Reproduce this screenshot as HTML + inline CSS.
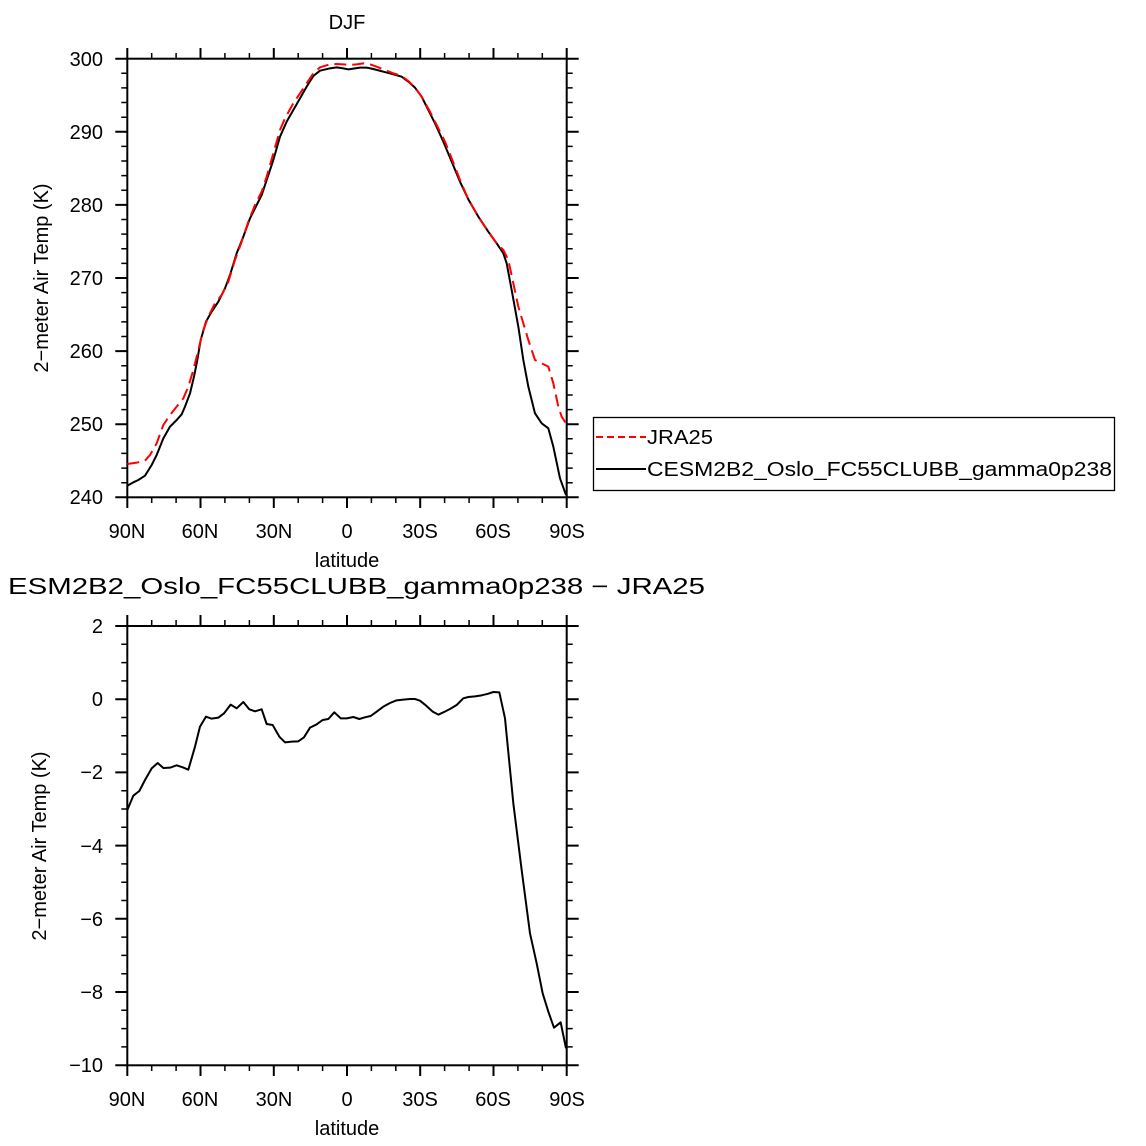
<!DOCTYPE html>
<html><head><style>html,body{margin:0;padding:0;background:#fff}svg{display:block}text{font-family:"Liberation Sans",sans-serif;fill:#000}</style></head>
<body>
<svg width="1146" height="1146" viewBox="0 0 1146 1146" xmlns="http://www.w3.org/2000/svg">
<g id="axes" stroke="#000" fill="none">
<rect x="127.3" y="58.7" width="439.4" height="438.6" stroke-width="2"/>
<rect x="127.3" y="626" width="439.4" height="439.3" stroke-width="2"/>
<path stroke-width="2" d="
M127.3 497v11M200.5 497v11M273.8 497v11M347 497v11M420.2 497v11M493.5 497v11M566.7 497v11
M127.3 59v-11M200.5 59v-11M273.8 59v-11M347 59v-11M420.2 59v-11M493.5 59v-11M566.7 59v-11
M127.3 1065v11M200.5 1065v11M273.8 1065v11M347 1065v11M420.2 1065v11M493.5 1065v11M566.7 1065v11
M127.3 626v-11M200.5 626v-11M273.8 626v-11M347 626v-11M420.2 626v-11M493.5 626v-11M566.7 626v-11"/>
<path stroke-width="1.5" d="
M151.7 497v6M176.1 497v6M224.9 497v6M249.4 497v6M298.2 497v6M322.6 497v6M371.4 497v6M395.8 497v6M444.6 497v6M469.1 497v6M517.9 497v6M542.3 497v6
M151.7 59v-6M176.1 59v-6M224.9 59v-6M249.4 59v-6M298.2 59v-6M322.6 59v-6M371.4 59v-6M395.8 59v-6M444.6 59v-6M469.1 59v-6M517.9 59v-6M542.3 59v-6
M151.7 1065v6M176.1 1065v6M224.9 1065v6M249.4 1065v6M298.2 1065v6M322.6 1065v6M371.4 1065v6M395.8 1065v6M444.6 1065v6M469.1 1065v6M517.9 1065v6M542.3 1065v6
M151.7 626v-6M176.1 626v-6M224.9 626v-6M249.4 626v-6M298.2 626v-6M322.6 626v-6M371.4 626v-6M395.8 626v-6M444.6 626v-6M469.1 626v-6M517.9 626v-6M542.3 626v-6"/>
</g>
<g stroke="#000" fill="none">
<path id="yt" stroke-width="2" d="M127.3 58.7h-12M127.3 131.8h-12M127.3 204.9h-12M127.3 278h-12M127.3 351.1h-12M127.3 424.2h-12M127.3 497.3h-12
M566.7 58.7h12M566.7 131.8h12M566.7 204.9h12M566.7 278h12M566.7 351.1h12M566.7 424.2h12M566.7 497.3h12
M127.3 626h-12M127.3 699.2h-12M127.3 772.4h-12M127.3 845.6h-12M127.3 918.8h-12M127.3 992h-12M127.3 1065.3h-12
M566.7 626h12M566.7 699.2h12M566.7 772.4h12M566.7 845.6h12M566.7 918.8h12M566.7 992h12M566.7 1065.3h12"/>
<path stroke-width="1.5" d="
M127.3 73.3h-6M127.3 87.9h-6M127.3 102.5h-6M127.3 117.2h-6M127.3 146.4h-6M127.3 161h-6M127.3 175.6h-6M127.3 190.3h-6M127.3 219.5h-6M127.3 234.1h-6M127.3 248.8h-6M127.3 263.4h-6M127.3 292.6h-6M127.3 307.2h-6M127.3 321.9h-6M127.3 336.5h-6M127.3 365.7h-6M127.3 380.3h-6M127.3 395h-6M127.3 409.6h-6M127.3 438.8h-6M127.3 453.4h-6M127.3 468.1h-6M127.3 482.7h-6
M566.7 73.3h6M566.7 87.9h6M566.7 102.5h6M566.7 117.2h6M566.7 146.4h6M566.7 161h6M566.7 175.6h6M566.7 190.3h6M566.7 219.5h6M566.7 234.1h6M566.7 248.8h6M566.7 263.4h6M566.7 292.6h6M566.7 307.2h6M566.7 321.9h6M566.7 336.5h6M566.7 365.7h6M566.7 380.3h6M566.7 395h6M566.7 409.6h6M566.7 438.8h6M566.7 453.4h6M566.7 468.1h6M566.7 482.7h6
M127.3 644.3h-6M127.3 662.6h-6M127.3 680.9h-6M127.3 717.5h-6M127.3 735.8h-6M127.3 754.1h-6M127.3 790.7h-6M127.3 809h-6M127.3 827.3h-6M127.3 863.9h-6M127.3 882.2h-6M127.3 900.5h-6M127.3 937.1h-6M127.3 955.4h-6M127.3 973.7h-6M127.3 1010.3h-6M127.3 1028.6h-6M127.3 1046.9h-6
M566.7 644.3h6M566.7 662.6h6M566.7 680.9h6M566.7 717.5h6M566.7 735.8h6M566.7 754.1h6M566.7 790.7h6M566.7 809h6M566.7 827.3h6M566.7 863.9h6M566.7 882.2h6M566.7 900.5h6M566.7 937.1h6M566.7 955.4h6M566.7 973.7h6M566.7 1010.3h6M566.7 1028.6h6M566.7 1046.9h6"/>
</g>
<g transform="translate(100,40) scale(0.33333)" fill="none" stroke-width="6" stroke-linejoin="round">
<polyline stroke="#000" points="82,1337 100,1327 115,1320 135,1307 155,1275 170,1245 190,1195 210,1160 230,1140 245,1123 255,1100 270,1060 282,1010 292,960 302,900 318,845 335,815 355,785 375,745 390,705 410,640 430,590 450,535 470,495 485,465 500,420 520,360 540,290 560,245 580,210 600,175 620,140 640,108 660,92 690,85 710,82 730,85 745,88 760,86 780,83 800,83 820,87 850,95 880,103 905,110 925,125 945,143 965,170 985,210 1005,250 1030,305 1055,365 1080,425 1105,478 1135,530 1165,575 1190,610 1210,640 1220,670 1235,750 1255,860 1270,960 1285,1040 1305,1120 1325,1150 1345,1165 1360,1220 1380,1315 1398,1365"/>
<polyline stroke="#f00" stroke-dasharray="36,18" points="82,1272 110,1268 135,1262 150,1245 170,1210 190,1155 210,1125 230,1100 250,1075 265,1040 280,990 295,930 310,870 325,830 345,790 365,765 385,725 405,660 425,605 445,545 465,495 485,455 500,410 520,340 540,270 555,235 580,190 610,145 640,100 660,82 690,73 710,72 730,73 750,75 770,73 790,70 810,73 830,80 860,92 880,100 905,108 925,123 945,143 965,170 990,215 1010,255 1035,305 1055,355 1080,420 1105,478 1135,530 1165,575 1190,610 1210,630 1225,660 1240,730 1255,800 1270,850 1285,900 1305,960 1325,970 1345,980 1360,1030 1375,1100 1385,1130 1398,1150"/>
</g>
<g transform="translate(100,610) scale(0.33333)" fill="none" stroke-width="6" stroke-linejoin="round">
<polyline stroke="#000" points="82,600 100,557 118,543 135,510 155,475 173,459 190,474 210,473 230,466 248,472 265,479 285,410 300,350 318,320 335,326 355,323 372,310 392,284 410,295 430,276 448,298 465,304 485,298 500,342 518,345 538,380 555,397 575,395 595,394 612,382 630,353 650,343 668,330 685,327 703,307 722,325 740,325 760,321 778,327 795,322 812,318 830,305 850,290 870,279 890,271 910,269 930,267 945,267 960,272 975,284 998,305 1015,314 1030,307 1050,297 1070,285 1090,265 1105,261 1125,259 1145,256 1165,251 1180,246 1198,247 1215,325 1240,580 1265,780 1290,970 1310,1060 1328,1150 1345,1205 1362,1253 1382,1237 1398,1315"/>
</g>
<g font-size="20" text-anchor="end">
<text x="103" y="66">300</text><text x="103" y="139">290</text><text x="103" y="212">280</text><text x="103" y="285">270</text><text x="103" y="358">260</text><text x="103" y="431">250</text><text x="103" y="504">240</text>
<text x="103" y="633">2</text><text x="103" y="706">0</text><text x="103" y="779">−2</text><text x="103" y="853">−4</text><text x="103" y="926">−6</text><text x="103" y="999">−8</text><text x="103" y="1072">−10</text>
</g>
<g font-size="20" text-anchor="middle">
<text x="127" y="538">90N</text><text x="200" y="538">60N</text><text x="274" y="538">30N</text><text x="347" y="538">0</text><text x="420" y="538">30S</text><text x="493" y="538">60S</text><text x="567" y="538">90S</text>
<text x="127" y="1106">90N</text><text x="200" y="1106">60N</text><text x="274" y="1106">30N</text><text x="347" y="1106">0</text><text x="420" y="1106">30S</text><text x="493" y="1106">60S</text><text x="567" y="1106">90S</text>
<text x="347" y="567">latitude</text><text x="347" y="1135">latitude</text>
<text x="347" y="29">DJF</text>
<text transform="translate(48,278) rotate(-90)">2−meter Air Temp (K)</text>
<text transform="translate(46,846) rotate(-90)">2−meter Air Temp (K)</text>
</g>
<text x="8" y="594" font-size="23" textLength="697" lengthAdjust="spacingAndGlyphs">ESM2B2_Oslo_FC55CLUBB_gamma0p238 − JRA25</text>
<rect x="593.5" y="417.5" width="521" height="73" fill="none" stroke="#000" stroke-width="1.3"/>
<line x1="596" y1="437" x2="646" y2="437" stroke="#f00" stroke-width="2" stroke-dasharray="7,4"/>
<line x1="596" y1="469" x2="646" y2="469" stroke="#000" stroke-width="2"/>
<text x="647" y="444" font-size="20" textLength="66" lengthAdjust="spacingAndGlyphs">JRA25</text>
<text x="647" y="476" font-size="20" textLength="465" lengthAdjust="spacingAndGlyphs">CESM2B2_Oslo_FC55CLUBB_gamma0p238</text>
</svg>
</body></html>
